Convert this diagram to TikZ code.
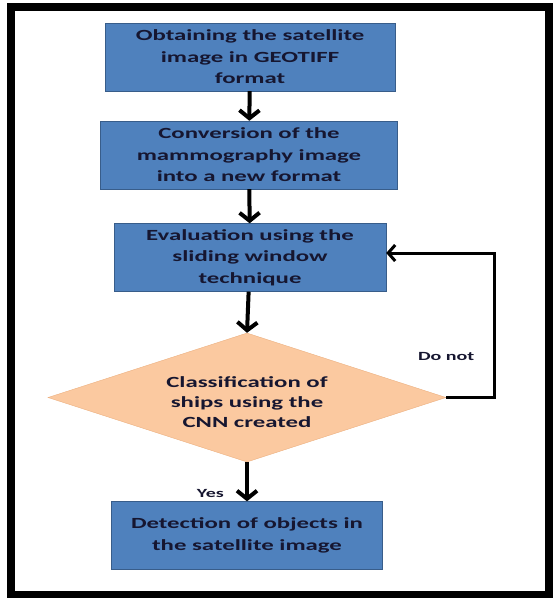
\documentclass[tikz,border=0pt]{standalone}
\usepackage{fontspec}
\setmainfont{Carlito}[FakeStretch=1.6]
\usepackage{tikz}
\usetikzlibrary{shapes.geometric,arrows.meta,positioning}
\definecolor{boxblue}{RGB}{79,129,189}
\definecolor{boxedge}{RGB}{56,93,138}
\definecolor{peach}{RGB}{251,201,160}
\definecolor{peachedge}{RGB}{236,176,128}
\definecolor{ink}{RGB}{22,22,48}

\begin{document}
\begin{tikzpicture}[x=1pt,y=-1pt,font=\bfseries\fontsize{15.5}{21.5}\selectfont]
\tikzset{stage/.style={draw=boxedge,fill=boxblue,text=ink,align=center,inner sep=0pt,minimum height=68pt},
  tag/.style={text=ink,inner sep=0pt,font=\bfseries\fontsize{12.5}{15}\selectfont},
  flow/.style={-{Straight Barb[length=8pt,width=20pt]},line width=4pt},
  back/.style={-{Straight Barb[length=7pt,width=16pt]},line width=3pt}}
\useasboundingbox (0,0) rectangle (554,598);
\draw[line width=8pt] (11,7) rectangle (549,595);
\node[stage,minimum width=290pt] (get) at (250,57) {Obtaining the satellite\\image in GEOTIFF\\format};
\node[stage,minimum width=297pt] (conv) at (249,155) {Conversion of the\\mammography image\\into a new format};
\node[stage,minimum width=272pt] (eval) at (250,257.5) {Evaluation using the\\sliding window\\technique};
\node[diamond,draw=peachedge,fill=peach,text=ink,align=center,inner sep=0pt,aspect=3.09,
  minimum width=398pt,minimum height=129pt,font=\bfseries\fontsize{15.5}{20}\selectfont]
  (cls) at (247,397.5) {\rule{0pt}{21pt}Classification of\\ships using the\\CNN created};
\node[stage,minimum width=271pt] (det) at (247,535.5) {Detection of objects in\\the satellite image};
\draw[flow] (get) -- (conv);
\draw[flow] (conv) -- (eval);
\draw[flow] (eval) -- (cls.north);
\draw[flow] (cls.south) -- (det);
% loop back when no ship is found
\coordinate (bend) at (494,253);
\draw[back] (cls.east) -| (bend) -- (bend -| eval.east);
\node[tag,above=37pt of cls.east] (no) {Do not};
\node[tag,above left=4pt and 23pt of det.north] (yes) {Yes};
\end{tikzpicture}
\end{document}
